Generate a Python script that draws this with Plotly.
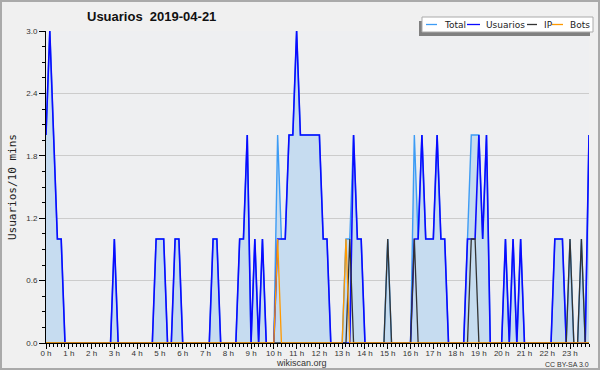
import plotly.graph_objects as go

# ---------------- data (10-minute slots, 144 per day) ----------------
hour_labels = [f"{h} h" for h in range(24)]
slots = list(range(144))

total = [
    2, 3, 2, 1, 1, 0,   0, 0, 0, 0, 0, 0,   0, 0, 0, 0, 0, 0,   1, 0, 0, 0, 0, 0,
    0, 0, 0, 0, 0, 1,   1, 1, 0, 0, 1, 1,   0, 0, 0, 0, 0, 0,   0, 0, 1, 1, 0, 0,
    0, 0, 0, 1, 1, 2,   0, 1, 0, 1, 0, 0,   0, 2, 1, 1, 2, 2,   3, 2, 2, 2, 2, 2,
    2, 1, 1, 0, 0, 0,   0, 1, 1, 2, 1, 1,   0, 0, 0, 0, 0, 0,   1, 0, 0, 0, 0, 0,
    0, 2, 1, 2, 1, 1,   1, 2, 1, 1, 0, 0,   0, 0, 0, 1, 2, 2,   2, 1, 2, 0, 0, 0,
    0, 1, 0, 1, 0, 1,   0, 0, 0, 0, 0, 0,   0, 0, 1, 1, 1, 0,   1, 0, 0, 1, 0, 2,
]
usuarios = [
    2, 3, 2, 1, 1, 0,   0, 0, 0, 0, 0, 0,   0, 0, 0, 0, 0, 0,   1, 0, 0, 0, 0, 0,
    0, 0, 0, 0, 0, 1,   1, 1, 0, 0, 1, 1,   0, 0, 0, 0, 0, 0,   0, 0, 1, 1, 0, 0,
    0, 0, 0, 1, 1, 2,   0, 1, 0, 1, 0, 0,   0, 1, 1, 1, 2, 2,   3, 2, 2, 2, 2, 2,
    2, 1, 1, 0, 0, 0,   0, 0, 0, 2, 1, 1,   0, 0, 0, 0, 0, 0,   0, 0, 0, 0, 0, 0,
    0, 1, 1, 2, 1, 1,   1, 2, 1, 1, 0, 0,   0, 0, 0, 1, 1, 1,   2, 1, 2, 0, 0, 0,
    0, 1, 0, 1, 0, 1,   0, 0, 0, 0, 0, 0,   0, 0, 1, 1, 1, 0,   0, 0, 0, 0, 0, 2,
]
ip = [
    0, 0, 0, 0, 0, 0,   0, 0, 0, 0, 0, 0,   0, 0, 0, 0, 0, 0,   0, 0, 0, 0, 0, 0,
    0, 0, 0, 0, 0, 0,   0, 0, 0, 0, 0, 0,   0, 0, 0, 0, 0, 0,   0, 0, 0, 0, 0, 0,
    0, 0, 0, 0, 0, 0,   0, 0, 0, 0, 0, 0,   0, 0, 0, 0, 0, 0,   0, 0, 0, 0, 0, 0,
    0, 0, 0, 0, 0, 0,   0, 0, 1, 0, 0, 0,   0, 0, 0, 0, 0, 0,   1, 0, 0, 0, 0, 0,
    0, 1, 0, 0, 0, 0,   0, 0, 0, 0, 0, 0,   0, 0, 0, 0, 1, 1,   0, 0, 0, 0, 0, 0,
    0, 0, 0, 0, 0, 0,   0, 0, 0, 0, 0, 0,   0, 0, 0, 0, 0, 0,   1, 0, 0, 1, 0, 0,
]
bots = [
    0, 0, 0, 0, 0, 0,   0, 0, 0, 0, 0, 0,   0, 0, 0, 0, 0, 0,   0, 0, 0, 0, 0, 0,
    0, 0, 0, 0, 0, 0,   0, 0, 0, 0, 0, 0,   0, 0, 0, 0, 0, 0,   0, 0, 0, 0, 0, 0,
    0, 0, 0, 0, 0, 0,   0, 0, 0, 0, 0, 0,   0, 1, 0, 0, 0, 0,   0, 0, 0, 0, 0, 0,
    0, 0, 0, 0, 0, 0,   0, 1, 0, 0, 0, 0,   0, 0, 0, 0, 0, 0,   0, 0, 0, 0, 0, 0,
    0, 0, 0, 0, 0, 0,   0, 0, 0, 0, 0, 0,   0, 0, 0, 0, 0, 0,   0, 0, 0, 0, 0, 0,
    0, 0, 0, 0, 0, 0,   0, 0, 0, 0, 0, 0,   0, 0, 0, 0, 0, 0,   0, 0, 0, 0, 0, 0,
]
y_ticks = [0.0, 0.6, 1.2, 1.8, 2.4, 3.0]
y_minor = [0.15 * i for i in range(21)]

series_names = ["Total", "Usuarios", "IP", "Bots"]
series_colors = ["#3d9cf5", "#0a0aff", "#333333", "#ff9900"]

# ---------------- geometry ----------------
W, H = 600, 370
L, R, T, B = 46, 11, 31, 27
PW, PH = W - L - R, H - T - B


def px(x):
    return (x - L) / PW


def py(y):
    return (H - B - y) / PH


FONT = "Liberation Sans, Arial, sans-serif"

fig = go.Figure()
fig.add_trace(go.Scatter(
    x=slots, y=total, mode="lines", fill="tozeroy",
    fillcolor="#c6dcf0", line=dict(color=series_colors[0], width=1.4),
    name="Total", hoverinfo="skip"))
fig.add_trace(go.Scatter(
    x=slots, y=usuarios, mode="lines",
    line=dict(color=series_colors[1], width=1.6), name="Usuarios", hoverinfo="skip"))
fig.add_trace(go.Scatter(
    x=slots, y=ip, mode="lines",
    line=dict(color=series_colors[2], width=1.3), name="IP", hoverinfo="skip"))
fig.add_trace(go.Scatter(
    x=slots, y=bots, mode="lines",
    line=dict(color=series_colors[3], width=1.3), name="Bots", hoverinfo="skip"))

shapes = [
    # outer frame
    dict(type="rect", xref="paper", yref="paper",
         x0=px(1), x1=px(599), y0=py(1), y1=py(369),
         line=dict(color="#aaaaaa", width=2), fillcolor="rgba(0,0,0,0)", layer="below"),
    # legend shadow
    dict(type="rect", xref="paper", yref="paper",
         x0=px(419), x1=px(590), y0=py(21), y1=py(36),
         line=dict(width=0), fillcolor="#808080"),
    # legend box
    dict(type="rect", xref="paper", yref="paper",
         x0=px(422), x1=px(593), y0=py(17), y1=py(32),
         line=dict(color="#aaaaaa", width=1), fillcolor="#ffffff"),
]
leg_line_x = [(426, 437), (467, 480), (527, 537), (552, 563)]
leg_text_x = [442, 484, 542, 568]
annotations = []
for (a, b), tx, name, col in zip(leg_line_x, leg_text_x, series_names, series_colors):
    shapes.append(dict(type="line", xref="paper", yref="paper",
                       x0=px(a), x1=px(b), y0=py(24.5), y1=py(24.5),
                       line=dict(color=col, width=1.3)))
    annotations.append(dict(text=name, xref="paper", yref="paper",
                            x=px(tx), y=py(24.5), xanchor="left", yanchor="middle",
                            showarrow=False, font=dict(family="DejaVu Sans", size=9, color="#222")))

annotations += [
    dict(text="<b>Usuarios  2019-04-21</b>", xref="paper", yref="paper",
         x=px(85), y=py(16.5), xanchor="left", yanchor="middle", showarrow=False,
         font=dict(family=FONT, size=13, color="#111")),
    dict(text="Usuarios/10 mins", xref="paper", yref="paper",
         x=px(12), y=0.5, xanchor="center", yanchor="middle", textangle=-90,
         showarrow=False, font=dict(family="DejaVu Sans Mono", size=11, color="#222")),
    dict(text="wikiscan.org", xref="paper", yref="paper",
         x=px(301), y=py(363), xanchor="center", yanchor="middle", showarrow=False,
         font=dict(family=FONT, size=9, color="#333")),
    dict(text="CC BY-SA 3.0", xref="paper", yref="paper",
         x=px(591), y=py(364), xanchor="right", yanchor="middle", showarrow=False,
         font=dict(family=FONT, size=7, color="#333")),
]

fig.update_layout(
    width=W, height=H,
    margin=dict(l=L, r=R, t=T, b=B, pad=0),
    paper_bgcolor="#f0f0f0", plot_bgcolor="#eeeff1",
    showlegend=False,
    shapes=shapes, annotations=annotations,
    font=dict(family=FONT, size=8, color="#333"),
)
fig.update_xaxes(
    range=[0, 143], tickmode="array",
    tickvals=[6 * h for h in range(24)], ticktext=hour_labels,
    ticks="outside", ticklen=5, tickcolor="#000", tickwidth=1,
    ticklabelstandoff=-3,
    minor=dict(tickmode="linear", tick0=0, dtick=1, ticks="outside",
               ticklen=3, tickcolor="#000", tickwidth=1, showgrid=False),
    showline=True, linecolor="#000", linewidth=1,
    showgrid=False, zeroline=False,
    tickfont=dict(family=FONT, size=8, color="#333"),
)
fig.update_yaxes(
    range=[0, 3], tickmode="array",
    tickvals=y_ticks, ticktext=[f"{v:.1f}" for v in y_ticks],
    ticks="outside", ticklen=6, tickcolor="#000", tickwidth=1,
    minor=dict(tickmode="array", tickvals=y_minor, ticks="outside",
               ticklen=3, tickcolor="#000", tickwidth=1, showgrid=False),
    showline=True, linecolor="#000", linewidth=1,
    showgrid=True, gridcolor="#cccccc", gridwidth=1, zeroline=False,
    tickfont=dict(family=FONT, size=8, color="#333"),
)

fig.write_html("out.html", config={"displayModeBar": False},
               post_script="document.body.style.margin='0';")
